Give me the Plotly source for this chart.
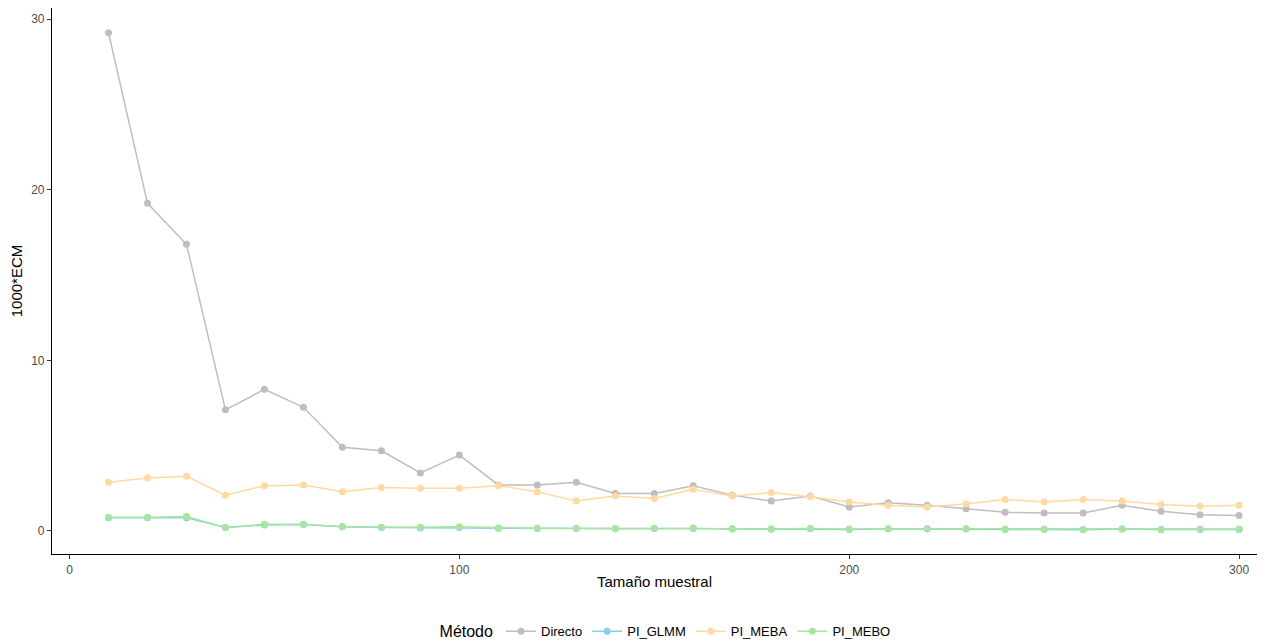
import plotly.graph_objects as go

tamano = list(range(10, 301, 10))

directo = [29.2, 19.2, 16.8, 7.1, 8.3, 7.25, 4.9, 4.7, 3.4, 4.45,
           2.7, 2.7, 2.85, 2.2, 2.2, 2.65, 2.1, 1.75, 2.05, 1.4,
           1.65, 1.5, 1.3, 1.1, 1.05, 1.05, 1.5, 1.15, 0.95, 0.9]
pi_glmm = [0.78, 0.78, 0.78, 0.2, 0.35, 0.38, 0.24, 0.2, 0.18, 0.2,
           0.16, 0.14, 0.14, 0.13, 0.14, 0.15, 0.11, 0.1, 0.13, 0.09,
           0.12, 0.12, 0.11, 0.09, 0.08, 0.07, 0.12, 0.08, 0.09, 0.09]
pi_meba = [2.85, 3.1, 3.2, 2.1, 2.65, 2.7, 2.3, 2.55, 2.5, 2.5,
           2.65, 2.3, 1.75, 2.05, 1.9, 2.45, 2.05, 2.25, 2.0, 1.7,
           1.5, 1.4, 1.6, 1.85, 1.7, 1.85, 1.75, 1.55, 1.45, 1.5]
pi_mebo = [0.8, 0.8, 0.85, 0.2, 0.4, 0.4, 0.25, 0.22, 0.22, 0.24,
           0.18, 0.16, 0.16, 0.15, 0.16, 0.17, 0.13, 0.13, 0.15, 0.11,
           0.13, 0.13, 0.13, 0.12, 0.1, 0.09, 0.11, 0.09, 0.12, 0.12]

series = [("Directo", directo, "#BEBEBE"),
          ("PI_GLMM", pi_glmm, "#87CEEB"),
          ("PI_MEBA", pi_meba, "#FFDAA0"),
          ("PI_MEBO", pi_mebo, "#A8E6A0")]

fig = go.Figure()
for name, vals, col in series:
    fig.add_trace(go.Scatter(x=tamano, y=vals, name=name, mode="lines+markers",
                             line=dict(color=col, width=1.5),
                             marker=dict(color=col, size=7)))

axis_common = dict(showline=True, linecolor="black", linewidth=1.2,
                   ticks="outside", ticklen=4, tickcolor="#333333",
                   showgrid=False, zeroline=False, automargin=False,
                   tickfont=dict(family="Liberation Sans, Arial", size=12, color="#4D4D4D"))

fig.update_layout(
    width=1260, height=636,
    paper_bgcolor="white", plot_bgcolor="white",
    margin=dict(l=44, r=11, t=0, b=90),
    font=dict(family="Liberation Sans, Arial", color="black"),
    xaxis=dict(range=[-4.5, 304.6], tickvals=[0, 100, 200, 300],
               title=dict(text="Tamaño muestral", font=dict(size=15), standoff=0),
               **axis_common),
    yaxis=dict(range=[-1.35, 30.65], tickvals=[0, 10, 20, 30],
               title=dict(text="1000*ECM", font=dict(size=15), standoff=4),
               **axis_common),
    legend=dict(orientation="h", x=0.51, xanchor="center",
                yref="container", y=0.019, yanchor="middle",
                title=dict(text="Método", font=dict(size=16)),
                font=dict(size=13), itemwidth=30),
    showlegend=True,
)

fig.write_html("out.html")
